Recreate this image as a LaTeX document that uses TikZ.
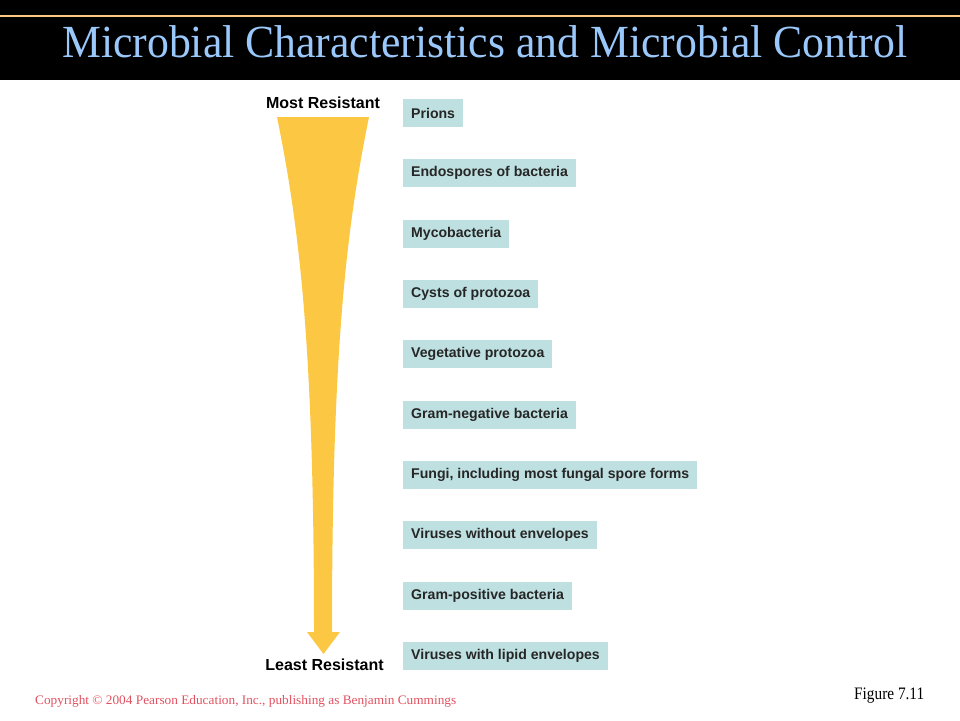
\documentclass[tikz,border=0pt]{standalone}
\usepackage{fontspec}
\usepackage{graphicx}
\setmainfont{Liberation Serif}
\newfontfamily\labelfont{Liberation Sans}
\usepackage{tikz}

\definecolor{titleblue}{RGB}{155,200,250}
\definecolor{bandline}{RGB}{250,200,130}
\definecolor{arrowgold}{RGB}{252,200,68}
\definecolor{boxteal}{RGB}{190,224,225}
\definecolor{copyred}{RGB}{225,80,95}

\tikzset{
  microbe/.style={fill=boxteal, anchor=west, minimum height=28pt, inner xsep=8pt, inner ysep=0pt,
    font=\labelfont\bfseries\fontsize{14.1}{16}\selectfont, text=black!85},
  endlabel/.style={font=\labelfont\bfseries\fontsize{16}{17}\selectfont, text=black},
  footer/.style={anchor=base west, inner sep=0pt}
}

\begin{document}
\begin{tikzpicture}[x=1pt, y=-1pt]
\useasboundingbox (0, 0) rectangle (960, 720);
\fill[black] (0, 0) rectangle (960, 80);
\fill[bandline] (0, 14.5) rectangle (960, 17);
\node[text=titleblue, footer] (title) at (62, 57) {\resizebox{845pt}{\height}{\fontsize{46}{50}\selectfont Microbial Characteristics and Microbial Control}};

\fill[arrowgold] (277, 117) .. controls (300, 230) and (314, 350) .. (314, 632) -- (307, 632) -- (323.5, 654)
  -- (340, 632) -- (332, 632) .. controls (332, 350) and (346, 230) .. (369, 117) -- cycle;
\node[endlabel] (most) at (323, 103) {Most Resistant};
\node[endlabel] (least) at (324.5, 665) {Least Resistant};

\node[microbe] (prions) at (403, 113) {Prions};
\node[microbe] (endospores) at (403, 173.3) {Endospores of bacteria};
\node[microbe] (myco) at (403, 233.7) {Mycobacteria};
\node[microbe] (cysts) at (403, 294) {Cysts of protozoa};
\node[microbe] (vegetative) at (403, 354.3) {Vegetative protozoa};
\node[microbe] (gramneg) at (403, 414.7) {Gram-negative bacteria};
\node[microbe] (fungi) at (403, 475) {Fungi, including most fungal spore forms};
\node[microbe] (nonenv) at (403, 535.3) {Viruses without envelopes};
\node[microbe] (grampos) at (403, 595.7) {Gram-positive bacteria};
\node[microbe] (lipid) at (403, 656) {Viruses with lipid envelopes};

\node[text=copyred, footer] (copyright) at (35, 704) {\resizebox{421pt}{\height}{\fontsize{13}{14}\selectfont Copyright \textcopyright{} 2004 Pearson Education, Inc., publishing as Benjamin Cummings}};
\node[footer] (figno) at (854, 699.3) {\resizebox{70pt}{\height}{\fontsize{17.5}{18}\selectfont Figure 7.11}};
\end{tikzpicture}
\end{document}
